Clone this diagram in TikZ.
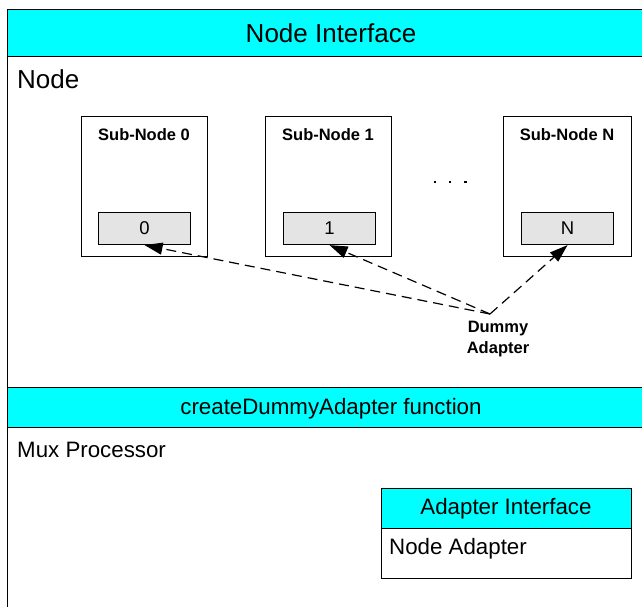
\documentclass[tikz,border=0pt]{standalone}
\usepackage{fontspec}
\setmainfont{Liberation Sans}
\usetikzlibrary{arrows.meta}
\definecolor{bandcyan}{HTML}{00FFFF}
\definecolor{slotgray}{HTML}{E4E4E4}
\tikzset{
  frame/.style={draw=black, line width=1.3pt, rectangle, inner sep=0pt, anchor=north west},
  band/.style={frame, fill=bandcyan},
  subbox/.style={draw=black, line width=1.1pt, rectangle, inner sep=0pt, anchor=north west, fill=white},
  slot/.style={draw=black, line width=1.1pt, rectangle, inner sep=0pt, anchor=north west, fill=slotgray},
  bigtxt/.style={font=\fontsize{26}{30}\selectfont, inner sep=0pt},
  midtxt/.style={font=\fontsize{22.3}{26}\selectfont, inner sep=0pt},
  subtitle/.style={font=\fontsize{16.5}{19}\selectfont\bfseries, inner sep=0pt},
  digit/.style={font=\fontsize{18.5}{21}\selectfont, inner sep=0pt},
  link/.style={dashed, dash pattern=on 10pt off 6pt, line width=1.2pt,
    -{Triangle[length=18pt,width=12pt]}},
}
\begin{document}
\begin{tikzpicture}[x=1pt, y=-1pt]
\useasboundingbox (0,0) rectangle (642,606);
\clip (0,0) rectangle (642,606);

% Node interface frame with its header band
\node[frame, minimum width=648pt, minimum height=378pt] (nodebox) at (7,9) {};
\node[band, minimum width=648pt, minimum height=47pt] (nodehead) at (7,9) {};
\node[bigtxt] (nodetitle) at (331,33) {Node Interface};
\node[bigtxt, anchor=west] (nodelabel) at (17,79) {Node};

% Sub-nodes with their slots
\node[subbox, minimum width=126pt, minimum height=140pt] (sub0) at (81,116) {};
\node[subbox, minimum width=126pt, minimum height=140pt] (sub1) at (265,116) {};
\node[subbox, minimum width=128pt, minimum height=140pt] (subN) at (503,116) {};
\node[subtitle] (sub0t) at (144,135) {Sub-Node 0};
\node[subtitle] (sub1t) at (328,135) {Sub-Node 1};
\node[subtitle] (subNt) at (567,135) {Sub-Node N};
\node[slot, minimum width=92pt, minimum height=32pt] (slot0) at (98,212) {};
\node[slot, minimum width=92pt, minimum height=32pt] (slot1) at (283,212) {};
\node[slot, minimum width=92pt, minimum height=32pt] (slotN) at (521,212) {};
\node[digit] (slot0t) at (slot0.center) {0};
\node[digit] (slot1t) at (slot1.center) {1};
\node[digit] (slotNt) at (slotN.center) {N};

% ellipsis between the sub-nodes
\foreach \i/\x in {1/435,2/450,3/465.5}
  \fill (\x-1.1,180.9) rectangle (\x+1.1,183.1);

% Dummy adapter links
\coordinate (dummy) at (490,314);
\node[subtitle, align=center, font=\fontsize{16.5}{21.5}\selectfont\bfseries] (dummyt) at (498,339) {Dummy\\Adapter};
\draw[link] (dummy) -- (slot0.south);
\draw[link] (dummy) -- (slot1.south);
\draw[link] (dummy) -- (slotN.south);

% Mux processor frame with its header band
\node[frame, minimum width=648pt, minimum height=240pt] (muxbox) at (7,387) {};
\node[band, minimum width=648pt, minimum height=40pt] (muxhead) at (7,387) {};
\node[midtxt] (muxtitle) at (331,409) {createDummyAdapter function};
\node[midtxt, anchor=west] (muxlabel) at (17,450) {Mux Processor};

% Adapter interface box
\node[frame, minimum width=250pt, minimum height=90pt] (adbox) at (381,488) {};
\node[band, minimum width=250pt, minimum height=40pt] (adhead) at (381,488) {};
\node[midtxt] (adtitle) at (506,509) {Adapter Interface};
\node[midtxt, anchor=west] (adlabel) at (389,549) {Node Adapter};
\end{tikzpicture}
\end{document}
